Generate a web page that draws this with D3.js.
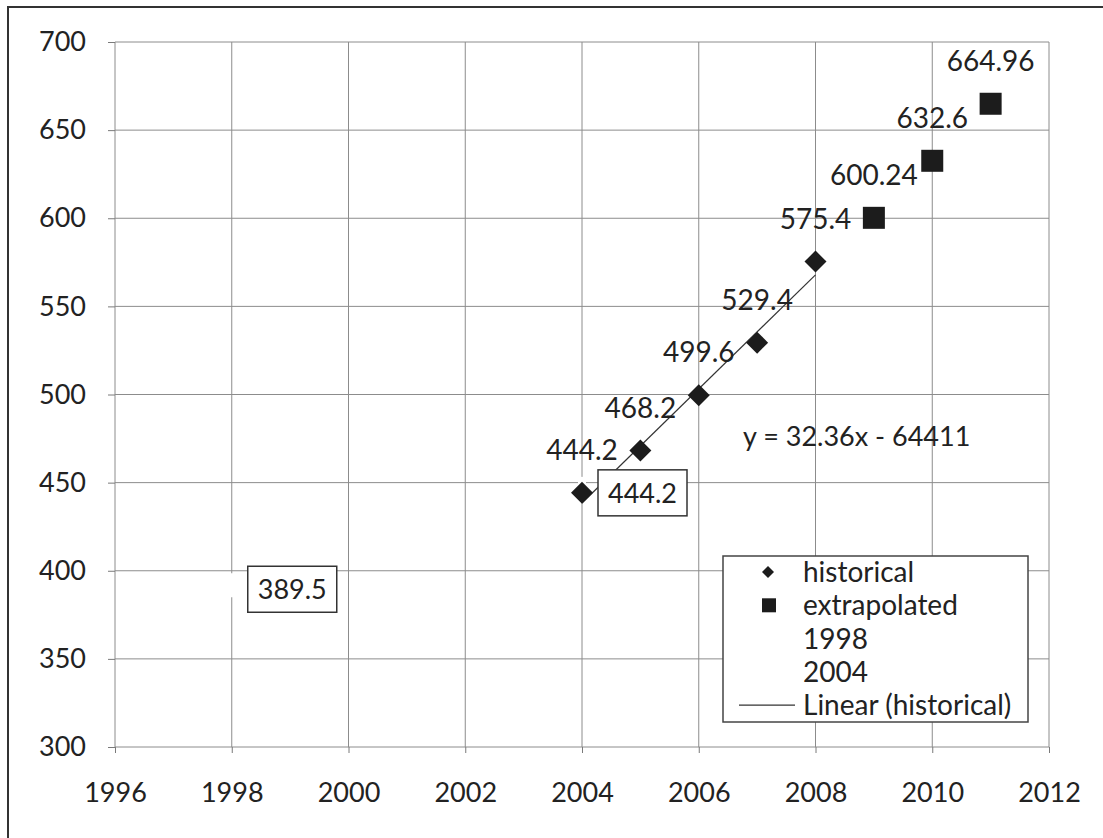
<!DOCTYPE html>
<html>
<head>
<meta charset="utf-8">
<script src="https://cdn.jsdelivr.net/npm/d3@7"></script>
<style>
  body { margin: 0; background: #fff; }
  svg { display: block; font-family: Lato, "Open Sans", sans-serif; }
  .axis path { display: none; }
  .axis line { stroke: #7a7a7a; }
  .axis text { fill: #222; font-size: 27px; font-family: Lato, "Open Sans", sans-serif; }
</style>
</head>
<body>
<div id="chart"></div>
<script>
// Data
const histYears = [2004, 2005, 2006, 2007, 2008];
const histValues = [444.2, 468.2, 499.6, 529.4, 575.4];
const extraYears = [2009, 2010, 2011];
const extraValues = [600.24, 632.6, 664.96];
const ref1998Years = [1998];
const ref1998Values = [389.5];
const ref2004Years = [2004];
const ref2004Values = [444.2];
// Linear (historical): y = 32.36x - 64411, drawn over the historical range
const trendYears = [2004, 2008];
const trendValues = [438.44, 567.88];
const equationText = "y = 32.36x - 64411";
const xTicks = [1996, 1998, 2000, 2002, 2004, 2006, 2008, 2010, 2012];
const yTicks = [300, 350, 400, 450, 500, 550, 600, 650, 700];
const legendLabels = ["historical", "extrapolated", "1998", "2004", "Linear (historical)"];

(function () {
  const W = 1103, H = 838;
  const margin = { left: 115, top: 42, right: 54, bottom: 91 };
  const innerW = W - margin.left - margin.right;
  const innerH = H - margin.top - margin.bottom;

  const svg = d3.select("#chart").append("svg")
    .attr("width", W).attr("height", H);

  // chart frame (only left/top edges fall inside the picture)
  svg.append("rect")
    .attr("x", 8).attr("y", 7)
    .attr("width", W + 20).attr("height", H + 20)
    .attr("fill", "none").attr("stroke", "#333").attr("stroke-width", 2);

  const g = svg.append("g").attr("transform", `translate(${margin.left},${margin.top})`);

  const x = d3.scaleLinear().domain([1996, 2012]).range([0, innerW]);
  const y = d3.scaleLinear().domain([300, 700]).range([innerH, 0]);

  // Gridlines
  g.append("g").selectAll("line.hgrid")
    .data(yTicks).join("line")
    .attr("x1", 0).attr("x2", innerW)
    .attr("y1", d => y(d)).attr("y2", d => y(d))
    .attr("stroke", "#8c8c8c").attr("stroke-width", 1);
  g.append("g").selectAll("line.vgrid")
    .data(xTicks).join("line")
    .attr("y1", 0).attr("y2", innerH)
    .attr("x1", d => x(d)).attr("x2", d => x(d))
    .attr("stroke", "#8c8c8c").attr("stroke-width", 1);

  // Axes
  const ax = g.append("g")
    .attr("class", "axis")
    .attr("transform", `translate(0,${innerH})`)
    .call(d3.axisBottom(x).tickValues(xTicks).tickFormat(d3.format("d")).tickSize(6).tickPadding(30));
  ax.selectAll("text").attr("dy", "0.71em");

  g.append("g")
    .attr("class", "axis")
    .call(d3.axisLeft(y).tickValues(yTicks).tickSize(7).tickPadding(22));

  // White markers for the "1998" and "2004" series (hide gridlines)
  const refPts = ref1998Years.map((yr, i) => ({ year: yr, value: ref1998Values[i] }))
    .concat(ref2004Years.map((yr, i) => ({ year: yr, value: ref2004Values[i] })));
  g.selectAll("rect.refmark")
    .data(refPts).join("rect")
    .attr("class", "refmark")
    .attr("x", d => x(d.year) - 4).attr("y", d => y(d.value) - 16)
    .attr("width", 8).attr("height", 24)
    .attr("fill", "#fff");

  // Trendline
  const trend = trendYears.map((yr, i) => ({ year: yr, value: trendValues[i] }));
  g.append("path")
    .datum(trend)
    .attr("fill", "none")
    .attr("stroke", "#333")
    .attr("stroke-width", 1.2)
    .attr("d", d3.line().x(d => x(d.year)).y(d => y(d.value)));

  const hist = histYears.map((yr, i) => ({ year: yr, value: histValues[i] }));
  const extra = extraYears.map((yr, i) => ({ year: yr, value: extraValues[i] }));

  const diamond = d3.symbol().type(d3.symbolSquare).size(242);

  // Historical diamonds
  g.selectAll("path.hist")
    .data(hist).join("path")
    .attr("class", "hist")
    .attr("d", diamond)
    .attr("transform", d => `translate(${x(d.year)},${y(d.value)}) rotate(45)`)
    .attr("fill", "#1c1c1c");

  // Extrapolated squares
  g.selectAll("rect.extra")
    .data(extra).join("rect")
    .attr("class", "extra")
    .attr("x", d => x(d.year) - 11).attr("y", d => y(d.value) - 11)
    .attr("width", 22).attr("height", 22)
    .attr("fill", "#1c1c1c");

  // Value labels above points
  g.selectAll("text.vlab")
    .data(hist.concat(extra)).join("text")
    .attr("class", "vlab")
    .attr("x", d => x(d.year))
    .attr("y", d => y(d.value) - 43)
    .attr("dy", "0.36em")
    .attr("text-anchor", "middle")
    .style("font-size", "28px")
    .attr("fill", "#222")
    .text(d => d.value);

  // Boxed labels for "1998" and "2004" series (placed right of point)
  refPts.forEach(d => {
    const bx = g.append("g").attr("transform", `translate(${x(d.year) + 16},${y(d.value)})`);
    bx.append("rect")
      .attr("x", 0).attr("y", -23).attr("width", 89).attr("height", 46)
      .attr("fill", "#fff").attr("stroke", "#333").attr("stroke-width", 1.5);
    bx.append("text")
      .attr("x", 44.5).attr("y", 0).attr("dy", "0.36em")
      .attr("text-anchor", "middle")
      .style("font-size", "27px").attr("fill", "#222")
      .text(d.value);
  });

  // Trendline equation
  g.append("text")
    .attr("x", 743 - margin.left).attr("y", 436 - margin.top)
    .attr("dy", "0.36em")
    .style("font-size", "27px").attr("fill", "#222")
    .text(equationText);

  // Legend
  const lg = svg.append("g").attr("transform", "translate(723,556)");
  lg.append("rect")
    .attr("width", 305).attr("height", 166)
    .attr("fill", "#fff").attr("stroke", "#444").attr("stroke-width", 1.5);
  const items = lg.selectAll("g.item")
    .data(legendLabels).join("g")
    .attr("class", "item")
    .attr("transform", (d, i) => `translate(0,${16 + i * 33.3})`);
  items.append("text")
    .attr("x", 80).attr("dy", "0.36em")
    .style("font-size", "28px").attr("fill", "#222")
    .text(d => d);
  items.filter((d, i) => i === 0).append("path")
    .attr("d", d3.symbol().type(d3.symbolSquare).size(72))
    .attr("transform", "translate(45,0) rotate(45)")
    .attr("fill", "#1c1c1c");
  items.filter((d, i) => i === 1).append("rect")
    .attr("x", 39).attr("y", -7).attr("width", 14).attr("height", 14)
    .attr("fill", "#1c1c1c");
  items.filter((d, i) => i === 4).append("line")
    .attr("x1", 16).attr("x2", 72)
    .attr("stroke", "#333").attr("stroke-width", 1.2);
})();
</script>
</body>
</html>
